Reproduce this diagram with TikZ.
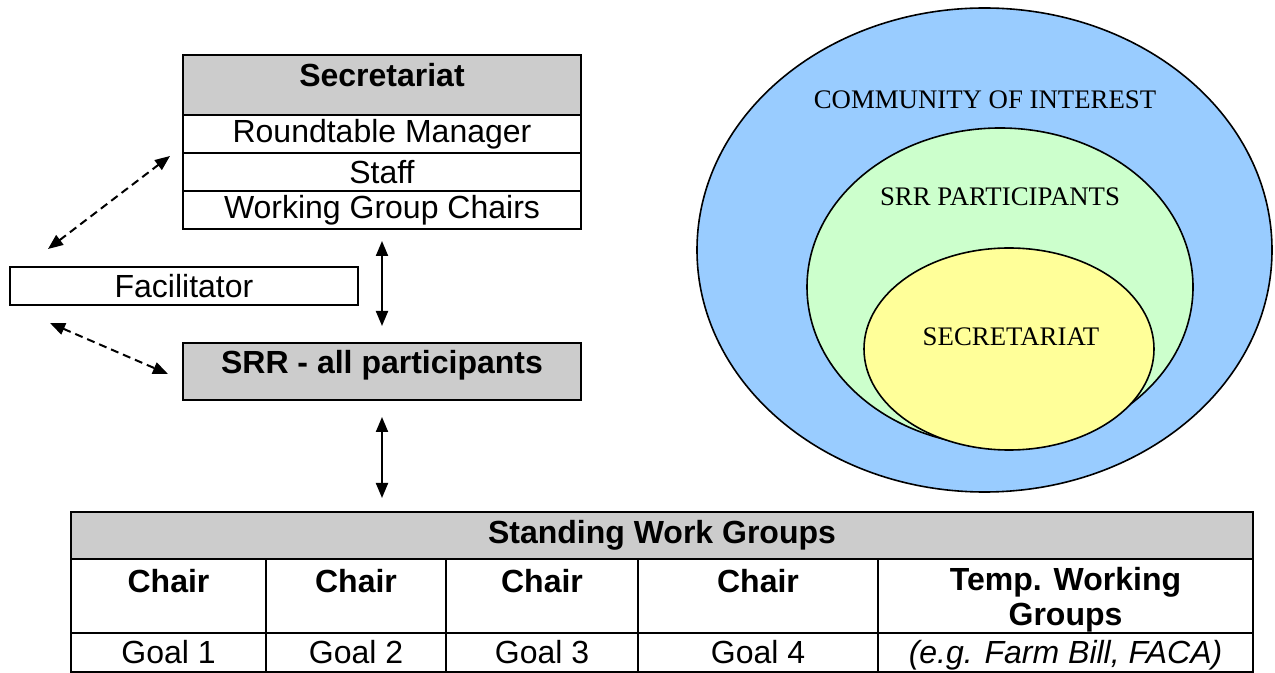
\documentclass[tikz,border=0pt]{standalone}
\usepackage{fontspec}
\setmainfont{Liberation Sans}
\newfontfamily\vennfont{Liberation Serif}
\usetikzlibrary{shapes.geometric,arrows.meta,positioning}

\definecolor{hdrgray}{RGB}{204,204,204}
\definecolor{coiblue}{RGB}{153,204,255}
\definecolor{srrgreen}{RGB}{204,255,204}
\definecolor{secyellow}{RGB}{255,255,153}

\tikzset{
    box/.style={draw, line width=1pt, rectangle, inner sep=0pt, outer sep=0pt, font=\fontsize{16}{17.5}\selectfont},
    head/.style={box, fill=hdrgray, font=\fontsize{16}{17.5}\selectfont\bfseries},
    goalcell/.style={box, anchor=north west, minimum height=19.5pt, text height=13.25pt, text depth=2.75pt},
    txt/.style={inner sep=0pt, align=center, font=\fontsize{16}{17.5}\selectfont\bfseries},
    venn/.style={ellipse, draw, line width=0.8pt, inner sep=0pt, outer sep=0pt},
    vennlabel/.style={inner sep=0pt, font=\vennfont\fontsize{13.4}{15}\selectfont},
    link/.style={line width=1pt, {Triangle[length=7.5pt,width=6pt]}-{Triangle[length=7.5pt,width=6pt]}},
    dlink/.style={link, dash pattern=on 4pt off 2.5pt},
}

\begin{document}
\begin{tikzpicture}[x=0.5pt, y=-0.5pt]
    \useasboundingbox (0,0) rectangle (1275,673);

    \node (sechead) at (382,85) [head, minimum width=199pt, minimum height=30pt] {\raisebox{5pt}[\height][\depth]{Secretariat}};
    \node (rtm) [box, minimum width=199pt, minimum height=19pt, below=0pt of sechead] {Roundtable Manager};
    \node (staff) [box, minimum width=199pt, minimum height=19pt, below=0pt of rtm] {Staff};
    \node (wgc) [box, minimum width=199pt, minimum height=19pt, below=0pt of staff] {Working Group Chairs};

    \node (fac) at (184,286) [box, minimum width=174pt, minimum height=19pt] {Facilitator};
    \node (srr) at (382,371.5) [head, minimum width=199pt, minimum height=28.5pt] {\raisebox{3pt}[\height][\depth]{SRR - all participants}};

    \coordinate (facup) at (48,249);
    \coordinate (secin) at (170,156);
    \coordinate (facdn) at (50,323);
    \coordinate (srrin) at (168,374);
    \draw[dlink] (facup) -- (secin);
    \draw[dlink] (facdn) -- (srrin);

    \node (swg) at (662,535.5) [head, minimum width=591pt, minimum height=23.5pt] {Standing Work Groups};
    \coordinate (swgtop) at (srr.south |- swg.north);

    \draw[link] ([yshift=-6pt]wgc.south) -- ([yshift=8.5pt]srr.north);
    \draw[link] ([yshift=-8.5pt]srr.south) -- ([yshift=7pt]swgtop);

    \node (chair1) at (71,559) [box, anchor=north west, minimum width=97.5pt, minimum height=37pt] {};
    \node (chair2) at (266,559) [box, anchor=north west, minimum width=90pt, minimum height=37pt] {};
    \node (chair3) at (446,559) [box, anchor=north west, minimum width=96pt, minimum height=37pt] {};
    \node (chair4) at (638,559) [box, anchor=north west, minimum width=120pt, minimum height=37pt] {};
    \node (temp) at (878,559) [box, anchor=north west, minimum width=187.5pt, minimum height=37pt] {};

    \node (chairtxt1) [txt, below=4.75pt of chair1.north] {Chair};
    \node (chairtxt2) [txt, below=4.75pt of chair2.north] {Chair};
    \node (chairtxt3) [txt, below=4.75pt of chair3.north] {Chair};
    \node (chairtxt4) [txt, below=4.75pt of chair4.north] {Chair};
    \node (temptxt) [txt, below=3.75pt of temp.north] {Temp. Working\\Groups};

    \node (goal1) at (71,633) [goalcell, minimum width=97.5pt] {Goal 1};
    \node (goal2) at (266,633) [goalcell, minimum width=90pt] {Goal 2};
    \node (goal3) at (446,633) [goalcell, minimum width=96pt] {Goal 3};
    \node (goal4) at (638,633) [goalcell, minimum width=120pt] {Goal 4};
    \node (example) at (878,633) [goalcell, minimum width=187.5pt] {\itshape (e.g. Farm Bill, FACA)};

    % nested circles
    \node (coi) at (984.5,250) [venn, fill=coiblue, minimum width=287.5pt, minimum height=242pt] {};
    \node (srrp) at (1000,287) [venn, fill=srrgreen, minimum width=193pt, minimum height=159pt] {};
    \node (secr) at (1009,349) [venn, fill=secyellow, minimum width=145pt, minimum height=101pt] {};

    \node (coitxt) at (985,100) [vennlabel] {COMMUNITY OF INTEREST};
    \node (srrtxt) at (1000,197) [vennlabel] {SRR PARTICIPANTS};
    \node (sectxt) at (1011,337) [vennlabel] {SECRETARIAT};
\end{tikzpicture}
\end{document}
